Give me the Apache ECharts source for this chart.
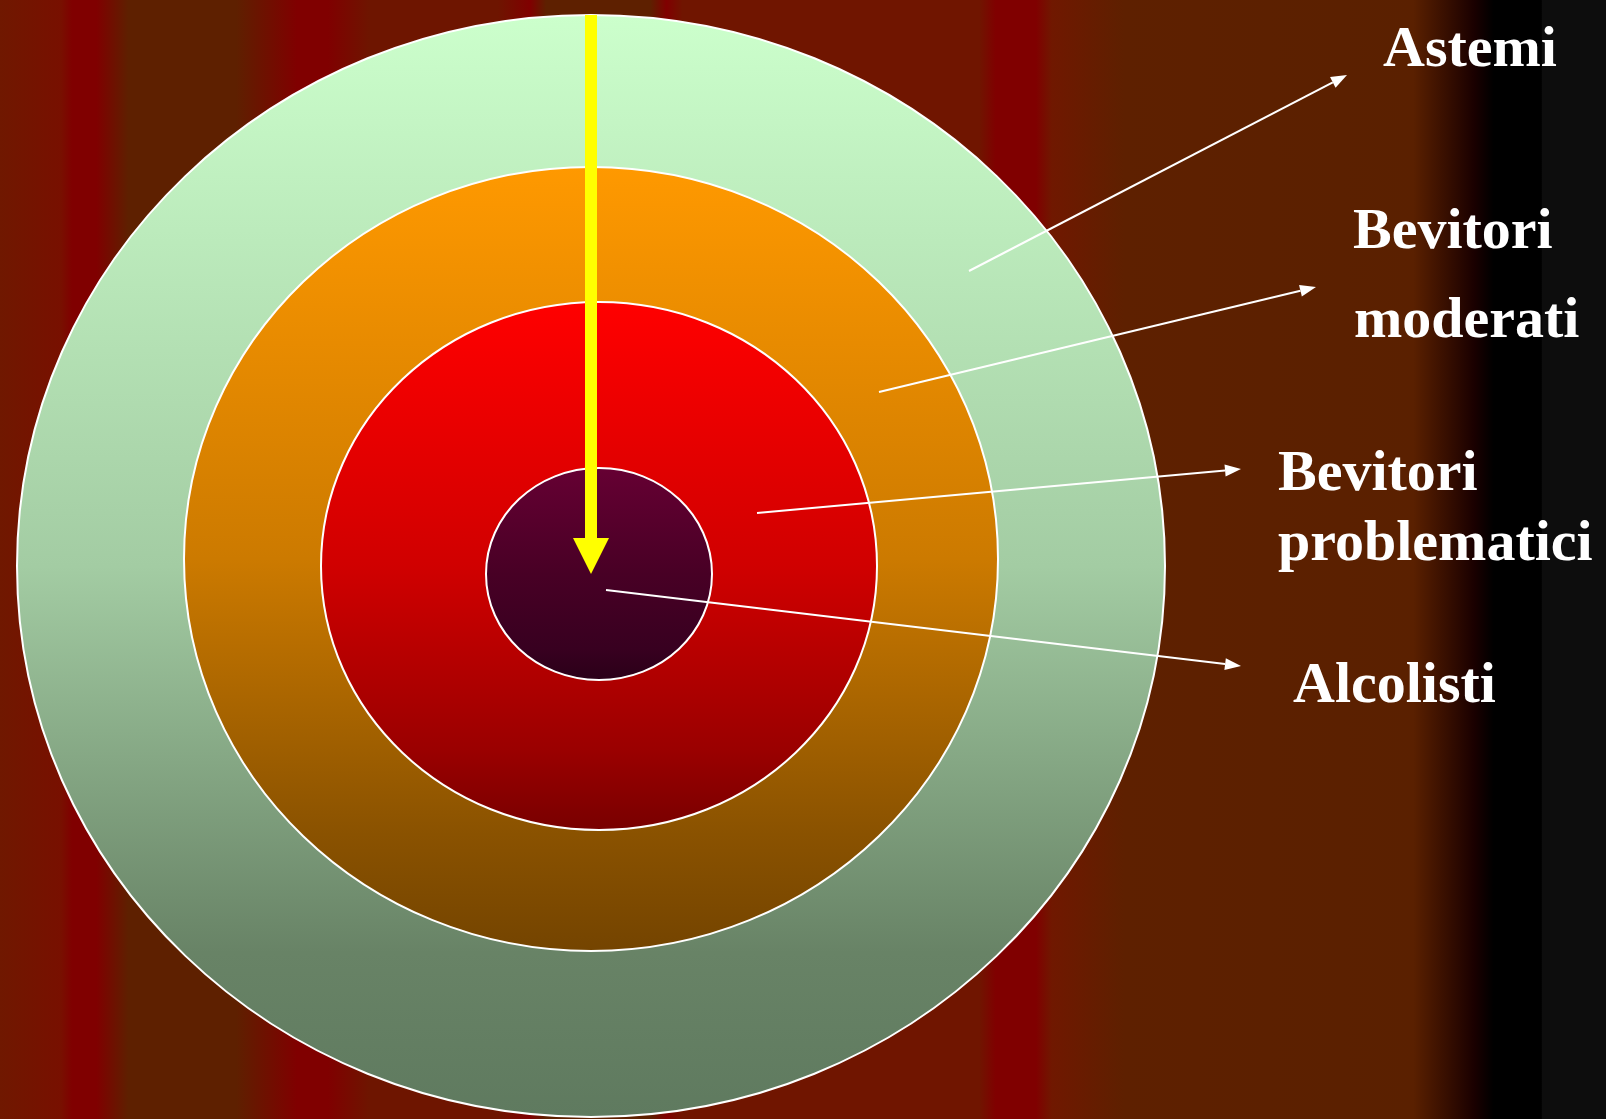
<!DOCTYPE html>
<html>
<head>
<meta charset="utf-8">
<script src="https://cdn.jsdelivr.net/npm/echarts@6/dist/echarts.min.js"></script>
<style>
  html, body { margin: 0; padding: 0; background: #000; }
  #main { width: 1606px; height: 1119px; }
</style>
</head>
<body>
<div id="main"></div>
<script>
// Rings, outermost first (centre and radii in picture units)
const ringNames = ['Astemi', 'Bevitori moderati', 'Bevitori problematici', 'Alcolisti'];
const ringCx = [591, 591, 599, 599];
const ringCy = [566, 559, 566, 574];
const ringRx = [574, 407, 278, 113];
const ringRy = [551, 392, 264, 106];

// Leader lines from each ring to its label
const leaderFrom = [[969, 271], [879, 392], [757, 513], [606, 590]];
const leaderTo = [[1347, 75], [1316, 287], [1241, 469], [1241, 666]];

// Label lines (left edge and baseline)
const labelText = ['Astemi', 'Bevitori', 'moderati', 'Bevitori', 'problematici', 'Alcolisti'];
const labelX = [1383, 1353, 1354, 1278, 1278, 1293];
const labelBaseY = [66, 248, 337, 490, 560, 702];

// Yellow arrow pointing to the centre
const arrowStart = [591, 15];
const arrowEnd = [591, 574];

// ring colours (top, middle, lower, bottom)
const ringColors = [
  ['#ccffcc', '#a3cca3', '#688366', '#5f7a5f'],
  ['#ff9900', '#cc7a00', '#8a5200', '#744400'],
  ['#ff0000', '#d00000', '#9a0000', '#780000'],
  ['#660033', '#480025', '#380020', '#2a0018']
]

const bgStops = [
  [0, '#701800'], [0.038, '#781000'], [0.045, '#800000'], [0.06, '#800000'],
  [0.08, '#5e2000'], [0.147, '#5e2000'], [0.185, '#800000'], [0.204, '#800000'],
  [0.23, '#6e1500'], [0.31, '#6e1500'], [0.33, '#800000'], [0.34, '#5e2000'],
  [0.405, '#5e2000'], [0.415, '#800000'], [0.425, '#701500'], [0.61, '#701500'],
  [0.62, '#800000'], [0.645, '#800000'], [0.655, '#701800'], [0.70, '#5e2000'],
  [0.88, '#5a2000'], [0.918, '#1a0000'], [0.93, '#000000'], [0.9598, '#000000'],
  [0.96, '#0d0d0d'], [1, '#0d0d0d']
]

const FONT_SIZE = 58

var myChart = echarts.init(document.getElementById('main'), null, { renderer: 'canvas' });

const ringData = ringNames.map((name, i) => ({
  name: name,
  value: [ringCx[i], ringCy[i], ringRx[i], ringRy[i]]
}))

const renderRing = (params, api) => {
  const c = api.coord([api.value(0), api.value(1)])
  const e = api.coord([api.value(0) + api.value(2), api.value(1) + api.value(3)])
  const cols = ringColors[params.dataIndex]
  return {
    type: 'ellipse',
    shape: { cx: c[0], cy: c[1], rx: Math.abs(e[0] - c[0]), ry: Math.abs(e[1] - c[1]) },
    style: {
      fill: new echarts.graphic.LinearGradient(0, 0, 0, 1, [
        { offset: 0, color: cols[0] },
        { offset: 0.5, color: cols[1] },
        { offset: 0.85, color: cols[2] },
        { offset: 1, color: cols[3] }
      ]),
      stroke: '#ffffff',
      lineWidth: 2
    }
  }
}

const renderLeader = (params, api) => {
  const p1 = api.coord([api.value(0), api.value(1)])
  const p2 = api.coord([api.value(2), api.value(3)])
  const dx = p2[0] - p1[0], dy = p2[1] - p1[1]
  const len = Math.sqrt(dx * dx + dy * dy)
  const ux = dx / len, uy = dy / len
  const headLen = 16, headW = 6
  const bx = p2[0] - ux * headLen, by = p2[1] - uy * headLen
  return {
    type: 'group',
    children: [
      {
        type: 'line',
        shape: { x1: p1[0], y1: p1[1], x2: bx, y2: by },
        style: { stroke: '#ffffff', lineWidth: 2 }
      },
      {
        type: 'polygon',
        shape: {
          points: [
            [p2[0], p2[1]],
            [bx - uy * headW, by + ux * headW],
            [bx + uy * headW, by - ux * headW]
          ]
        },
        style: { fill: '#ffffff' }
      }
    ]
  }
}

const renderArrow = (params, api) => {
  const a = api.coord([api.value(0), api.value(1)])
  const b = api.coord([api.value(2), api.value(3)])
  const shaftW = 6, headW = 18, headLen = 36
  const x = a[0]
  return {
    type: 'polygon',
    shape: {
      points: [
        [x - shaftW, a[1]], [x + shaftW, a[1]], [x + shaftW, b[1] - headLen],
        [x + headW, b[1] - headLen], [x, b[1]], [x - headW, b[1] - headLen],
        [x - shaftW, b[1] - headLen]
      ]
    },
    style: { fill: '#ffff00' }
  }
}

const renderLabel = (params, api) => {
  const p = api.coord([api.value(0), api.value(1)])
  return {
    type: 'text',
    style: {
      text: labelText[params.dataIndex],
      x: p[0],
      // text is centred on "middle", a quarter of the font size above the baseline
      y: p[1] - FONT_SIZE * 0.25,
      fill: '#ffffff',
      fontSize: FONT_SIZE,
      fontWeight: 'bold',
      fontFamily: '"Liberation Serif", "Times New Roman", serif',
      align: 'left',
      verticalAlign: 'middle'
    }
  }
}

const option = {
  animation: false,
  graphic: [
    {
      type: 'rect',
      z: -10,
      shape: { x: 0, y: 0, width: 1606, height: 1119 },
      style: {
        fill: new echarts.graphic.LinearGradient(0, 0, 1, 0,
          bgStops.map(([offset, color]) => ({ offset, color })))
      }
    }
  ],
  grid: { left: 0, right: 0, top: 0, bottom: 0 },
  xAxis: { type: 'value', min: 0, max: 1606, show: false },
  yAxis: { type: 'value', min: 0, max: 1119, inverse: true, show: false },
  series: [
    {
      name: 'rings',
      type: 'custom',
      clip: false,
      z: 2,
      renderItem: renderRing,
      data: ringData
    },
    {
      name: 'arrow',
      type: 'custom',
      clip: false,
      z: 3,
      renderItem: renderArrow,
      data: [[arrowStart[0], arrowStart[1], arrowEnd[0], arrowEnd[1]]]
    },
    {
      name: 'leaders',
      type: 'custom',
      clip: false,
      z: 4,
      renderItem: renderLeader,
      data: leaderFrom.map((f, i) => [f[0], f[1], leaderTo[i][0], leaderTo[i][1]])
    },
    {
      name: 'labels',
      type: 'custom',
      clip: false,
      z: 5,
      renderItem: renderLabel,
      data: labelText.map((t, i) => [labelX[i], labelBaseY[i]])
    }
  ]
};

myChart.setOption(option);
</script>
</body>
</html>
